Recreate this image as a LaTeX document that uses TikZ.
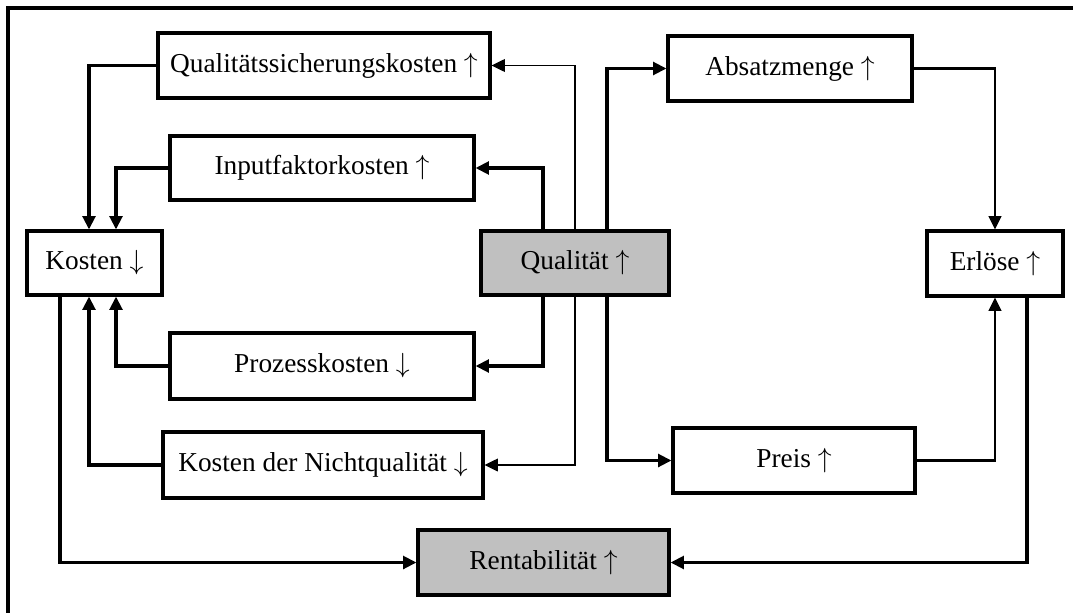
\documentclass[tikz,border=0pt]{standalone}
\usepackage{fontspec}
\setmainfont{Liberation Serif}
\usetikzlibrary{arrows.meta}
\newcommand{\up}{\ $\uparrow$}
\newcommand{\down}{\ $\downarrow$}
\begin{document}
\begin{tikzpicture}[x=0.75pt,y=-0.75pt,
  box/.style={draw, line width=2.3pt, fill=white, inner sep=0pt,
    font=\fontsize{20.5}{24}\selectfont},
  keybox/.style={box, fill=boxgray},
  tip/.style={-{Triangle[length=10pt,width=9.5pt]}},
  heavy/.style={tip, line width=2.4pt},
  medium/.style={tip, line width=1.6pt},
  light/.style={tip, line width=1.2pt},
  frame/.style={line width=2.4pt}]
\definecolor{boxgray}{HTML}{C0C0C0}
\useasboundingbox (0,0) rectangle (1073,613);

% open frame along the top and left edge
\draw[frame] (8,613) -- (8,8) -- (1073,8);

% boxes
\node[box, minimum width=332*0.75pt, minimum height=65*0.75pt] (qs)    at (324,65.5)  {Qualitätssicherungskosten\up};
\node[box, minimum width=304*0.75pt, minimum height=64*0.75pt] (inp)   at (322,168)   {Inputfaktorkosten\up};
\node[box, minimum width=304*0.75pt, minimum height=66*0.75pt] (proz)  at (322,366)   {Prozesskosten\down};
\node[box, minimum width=320*0.75pt, minimum height=66*0.75pt] (knq)   at (323,465)   {Kosten der Nichtqualität\down};
\node[box, minimum width=135*0.75pt, minimum height=64*0.75pt] (kost)  at (94.5,263)  {Kosten\down};
\node[keybox, minimum width=188*0.75pt, minimum height=64*0.75pt] (qual) at (575,263) {Qualität\up};
\node[box, minimum width=244*0.75pt, minimum height=65*0.75pt] (abs)   at (790,68.5)  {Absatzmenge\up};
\node[box, minimum width=242*0.75pt, minimum height=65*0.75pt] (preis) at (794,460.5) {Preis\up};
\node[box, minimum width=136*0.75pt, minimum height=65*0.75pt] (erl)   at (995,263.5) {Erlöse\up};
\node[keybox, minimum width=251*0.75pt, minimum height=65*0.75pt] (rent) at (543.5,562.5) {Rentabilität\up};

% Qualität to the cost drivers
\draw[light] (qual.north) |- (qs.east);
\draw[heavy] ([xshift=-32*0.75pt]qual.north) |- (inp.east);
\draw[heavy] ([xshift=-32*0.75pt]qual.south) |- (proz.east);
\draw[light] (qual.south) |- (knq.east);

% Qualität to the revenue drivers
\draw[heavy] ([xshift=32*0.75pt]qual.north) |- (abs.west);
\draw[heavy] ([xshift=32*0.75pt]qual.south) |- (preis.west);

% cost drivers to Kosten
\draw[heavy] (qs.west) -| ([xshift=-5.5*0.75pt]kost.north);
\draw[heavy] (inp.west) -| ([xshift=21.5*0.75pt]kost.north);
\draw[heavy] (proz.west) -| ([xshift=21.5*0.75pt]kost.south);
\draw[heavy] (knq.west) -| ([xshift=-5.5*0.75pt]kost.south);

% revenue drivers to Erlöse
\draw[medium] (abs.east) -| (erl.north);
\draw[medium] (preis.east) -| (erl.south);

% Kosten and Erlöse to Rentabilität
\draw[heavy] ([xshift=-34.5*0.75pt]kost.south) |- (rent.west);
\draw[heavy] ([xshift=32*0.75pt]erl.south) |- (rent.east);
\end{tikzpicture}
\end{document}
